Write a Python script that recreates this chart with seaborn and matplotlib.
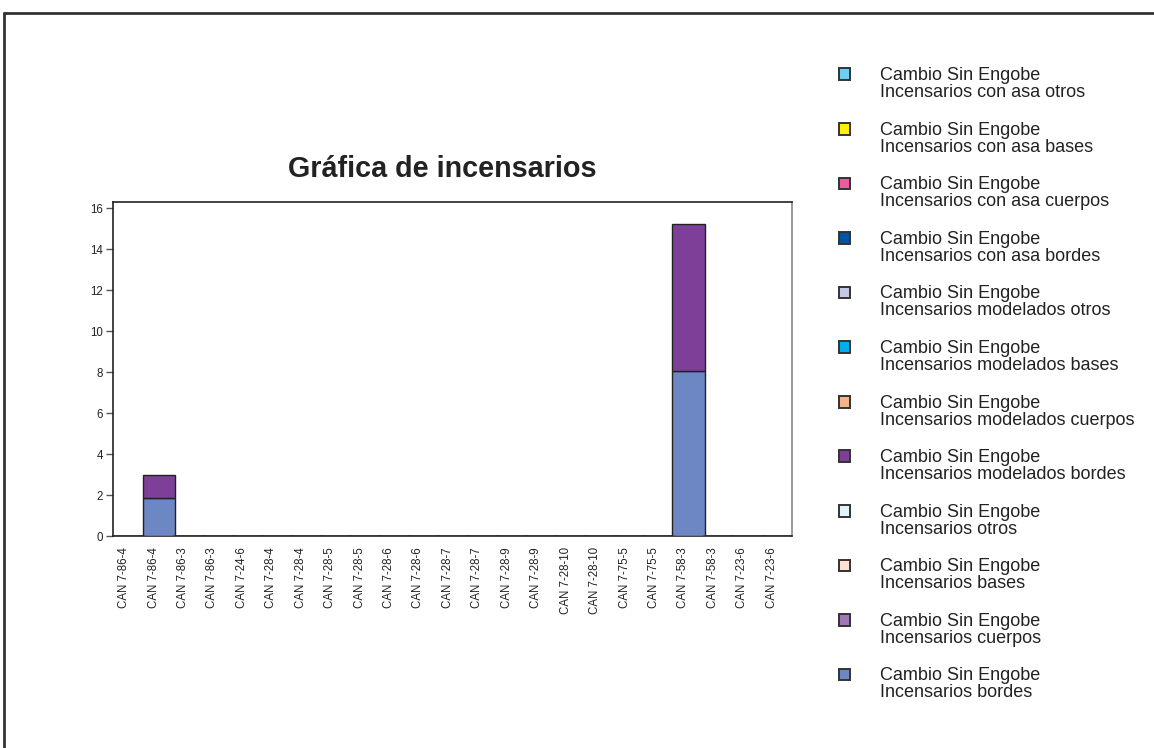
import numpy as np
import pandas as pd
import matplotlib
matplotlib.use("Agg")
import matplotlib.pyplot as plt
from matplotlib.patches import Patch, Rectangle
from matplotlib.lines import Line2D
from matplotlib.legend_handler import HandlerPatch
import seaborn as sns

# Sample labels (repeated labels are separate bars)
samples = ["CAN 7-86-4", "CAN 7-86-4", "CAN 7-86-3", "CAN 7-86-3", "CAN 7-24-6",
           "CAN 7-28-4", "CAN 7-28-4", "CAN 7-28-5", "CAN 7-28-5", "CAN 7-28-6",
           "CAN 7-28-6", "CAN 7-28-7", "CAN 7-28-7", "CAN 7-28-9", "CAN 7-28-9",
           "CAN 7-28-10", "CAN 7-28-10", "CAN 7-75-5", "CAN 7-75-5", "CAN 7-58-3",
           "CAN 7-58-3", "CAN 7-23-6", "CAN 7-23-6"]

# Series, bottom of the stack first
series_names = [
    "Cambio Sin Engobe\nIncensarios bordes",
    "Cambio Sin Engobe\nIncensarios cuerpos",
    "Cambio Sin Engobe\nIncensarios bases",
    "Cambio Sin Engobe\nIncensarios otros",
    "Cambio Sin Engobe\nIncensarios modelados bordes",
    "Cambio Sin Engobe\nIncensarios modelados cuerpos",
    "Cambio Sin Engobe\nIncensarios modelados bases",
    "Cambio Sin Engobe\nIncensarios modelados otros",
    "Cambio Sin Engobe\nIncensarios con asa bordes",
    "Cambio Sin Engobe\nIncensarios con asa cuerpos",
    "Cambio Sin Engobe\nIncensarios con asa bases",
    "Cambio Sin Engobe\nIncensarios con asa otros",
]
series_colors = ["#6d87c4", "#a277b8", "#fce0d0", "#e1f4fb",
                 "#7e3f98", "#f4b48a", "#00aeef", "#c5c9e6",
                 "#0054a6", "#ef5a9d", "#fff200", "#6dcff6"]

bordes = [0, 1.87, 0, 0, 0, 0, 0, 0, 0, 0, 0, 0, 0, 0, 0, 0, 0, 0, 0, 8.07, 0, 0, 0]
cuerpos = [0] * 23
bases = [0] * 23
otros = [0] * 23
modelados_bordes = [0, 1.13, 0, 0, 0, 0, 0, 0, 0, 0, 0, 0, 0, 0, 0, 0, 0, 0, 0, 7.18, 0, 0, 0]
modelados_cuerpos = [0] * 23
modelados_bases = [0] * 23
modelados_otros = [0] * 23
con_asa_bordes = [0] * 23
con_asa_cuerpos = [0] * 23
con_asa_bases = [0] * 23
con_asa_otros = [0] * 23

series_values = [bordes, cuerpos, bases, otros,
                 modelados_bordes, modelados_cuerpos, modelados_bases, modelados_otros,
                 con_asa_bordes, con_asa_cuerpos, con_asa_bases, con_asa_otros]

sns.set_style("white")
plt.rcParams["font.family"] = ["Liberation Sans", "DejaVu Sans"]

fig = plt.figure(figsize=(11.54, 7.48), dpi=100)
ax = fig.add_axes([0.0979, 0.2834, 0.5884, 0.4465])

pos = np.arange(len(samples))
bottom = np.zeros(len(samples))
for name, color, vals in zip(series_names, series_colors, series_values):
    vals = np.array(vals, dtype=float)
    if vals.sum() > 0:
        df = pd.DataFrame({"pos": pos, "val": vals})
        sns.barplot(data=df, x="pos", y="val", native_scale=True, width=1.1,
                    color=color, saturation=1, edgecolor="#222222", linewidth=1.0,
                    bottom=bottom, errorbar=None, ax=ax, zorder=3)
    bottom = bottom + vals

ax.set_xlim(-0.56, 22.51)
ax.set_ylim(0, 16.3)
ax.set_yticks(np.arange(0, 17, 2))
ax.set_xticks(pos - 0.18)
ax.set_xticklabels(samples, rotation=90, fontsize=8.3, color="#222222")
ax.set_xticks([-0.5 + k * 19 / 3 for k in (1, 2, 3)], minor=True)
ax.tick_params(axis="x", which="major", length=0, pad=8)
ax.tick_params(axis="x", which="minor", length=5, width=1, color="#777777", direction="out")
ax.tick_params(axis="y", length=5, width=1, color="#555555", direction="out",
               labelsize=8.3, labelcolor="#222222", pad=2, left=True)
ax.set_xlabel("")
ax.set_ylabel("")
for side in ["left", "bottom", "top"]:
    ax.spines[side].set_color("#222222")
    ax.spines[side].set_linewidth(1.2)
ax.spines["right"].set_color("#888888")
ax.spines["right"].set_linewidth(1.2)

fig.text(0.3828, 0.774, "Gráfica de incensarios", ha="center", va="center",
         fontsize=20.7, fontweight="bold", color="#222222")


# legend squares sit next to the first line of each two-line label
def raised_square(legend, orig_handle, xdescent, ydescent, width, height, fontsize):
    return Rectangle((-xdescent, -ydescent + 7.2), width, height)


handles = [Patch(facecolor=c, edgecolor="#333333", linewidth=1.4) for c in series_colors]
leg = fig.legend(handles[::-1], series_names[::-1], loc="upper left",
                 bbox_to_anchor=(0.721, 0.92), frameon=False, fontsize=13,
                 handlelength=0.62, handleheight=0.62, handletextpad=1.62,
                 labelspacing=1.14, borderaxespad=0, labelcolor="#222222",
                 handler_map={Patch: HandlerPatch(patch_func=raised_square)})
for t in leg.get_texts():
    t.set_linespacing(1.0)

# page frame
fig.add_artist(Line2D([0.0035, 1.0], [0.983, 0.983], transform=fig.transFigure,
                      color="#333333", linewidth=2))
fig.add_artist(Line2D([0.0035, 0.0035], [0.0, 0.983], transform=fig.transFigure,
                      color="#333333", linewidth=2))

fig.savefig("out.png", dpi=100)
